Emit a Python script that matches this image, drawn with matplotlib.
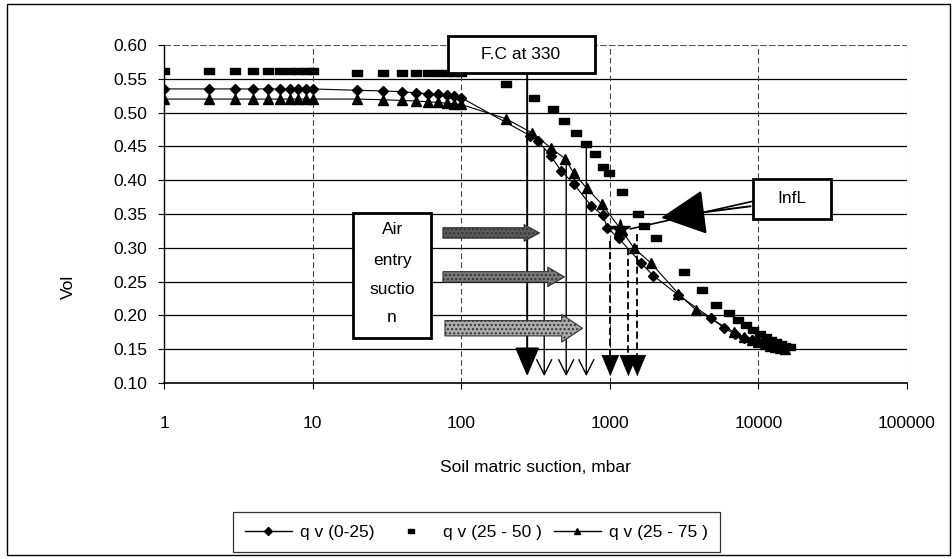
import numpy as np
import matplotlib
matplotlib.use("Agg")
import matplotlib.pyplot as plt
from matplotlib.patches import Rectangle, FancyArrowPatch
from matplotlib.lines import Line2D

plt.rcParams['font.family'] = ['Liberation Sans', 'DejaVu Sans']

# q v (0-25), diamonds with line
diam_x = [1, 2, 3, 4, 5, 6, 7, 8, 9, 10, 20, 30, 40, 50, 60, 70, 80, 90, 100,
          290, 330, 400, 470, 570, 750, 900, 960, 1150, 1630, 1960, 2900, 4800,
          5900, 7000, 8000, 9000, 10000, 11000, 12000, 13000, 14000]
diam_y = [0.535, 0.535, 0.535, 0.535, 0.535, 0.535, 0.535, 0.535, 0.535, 0.535,
          0.533, 0.532, 0.531, 0.529, 0.528, 0.527, 0.526, 0.524, 0.522,
          0.466, 0.458, 0.436, 0.414, 0.395, 0.362, 0.348, 0.330, 0.314, 0.277,
          0.259, 0.230, 0.196, 0.181, 0.172, 0.167, 0.163, 0.160, 0.157, 0.155,
          0.154, 0.152]

# q v (25 - 50 ), rectangles, no line
sq_x = [1, 2, 3, 4, 5, 6, 7, 8, 9, 10, 20, 30, 40, 50, 60, 70, 80, 90, 100,
        200, 310, 415, 495, 595, 690, 790, 900, 990, 1200, 1550, 1700, 2050,
        3150, 4150, 5200, 6300, 7300, 8200, 9200, 10200, 11200, 12200, 13200,
        14200, 15200, 16200]
sq_y = [0.562, 0.562, 0.562, 0.562, 0.562, 0.562, 0.562, 0.562, 0.562, 0.562,
        0.559, 0.559, 0.559, 0.559, 0.559, 0.559, 0.559, 0.559, 0.559,
        0.542, 0.522, 0.506, 0.488, 0.470, 0.454, 0.439, 0.419, 0.410, 0.382,
        0.350, 0.333, 0.314, 0.264, 0.237, 0.215, 0.203, 0.193, 0.186, 0.179,
        0.173, 0.168, 0.164, 0.160, 0.157, 0.155, 0.153]

# q v (25 - 75 ), triangles with line
tri_x = [1, 2, 3, 4, 5, 6, 7, 8, 9, 10, 20, 30, 40, 50, 60, 70, 80, 90, 100,
         200, 300, 400, 500, 570, 700, 880, 1200, 1450, 1900, 2900, 3800, 6900,
         8000, 9000, 10000, 11000, 12000, 13000, 14000, 15000]
tri_y = [0.520, 0.520, 0.520, 0.520, 0.520, 0.520, 0.520, 0.520, 0.520, 0.520,
         0.520, 0.519, 0.518, 0.517, 0.516, 0.515, 0.514, 0.513, 0.512,
         0.491, 0.470, 0.448, 0.432, 0.411, 0.388, 0.365, 0.326, 0.300, 0.277,
         0.232, 0.208, 0.175, 0.168, 0.163, 0.160, 0.157, 0.155, 0.153, 0.152,
         0.150]

labels = ["q v (0-25)", "q v (25 - 50 )", "q v (25 - 75 )"]
yticks = [0.10, 0.15, 0.20, 0.25, 0.30, 0.35, 0.40, 0.45, 0.50, 0.55, 0.60]
xticks = [1, 10, 100, 1000, 10000, 100000]

# annotation positions
fc_arrow_x = 278
open_arrow_x = [362, 509, 695]
open_arrow_top = [0.45, 0.43, 0.455]
dash_arrow_x = [1008, 1334, 1531]
dash_arrow_top = [0.31, 0.30, 0.32]
inflection = (1176, 0.328)

rect_marker = [(-1, -0.62), (1, -0.62), (1, 0.62), (-1, 0.62), (-1, -0.62)]

fig = plt.figure(figsize=(9.53, 5.59), dpi=100)
ax = fig.add_axes([0.1721, 0.3148, 0.7796, 0.6047])

ax.plot(diam_x, diam_y, color='black', lw=0.8, marker='D', ms=5.5, zorder=4)
ax.plot(sq_x, sq_y, ls='none', color='black', marker=rect_marker, ms=6.5, zorder=4)
ax.plot(tri_x, tri_y, color='black', lw=0.8, marker='^', ms=7, zorder=4)

ax.set_xscale('log')
ax.set_xlim(1, 100000)
ax.set_ylim(0.10, 0.60)
ax.set_xticks(xticks)
ax.set_xticklabels([str(v) for v in xticks])
ax.xaxis.set_minor_locator(matplotlib.ticker.NullLocator())
ax.set_yticks(yticks)
ax.set_yticklabels([f"{v:.2f}" for v in yticks])
ax.xaxis.set_tick_params(which='major', labelsize=12.5, length=4, width=0.8, pad=20)
ax.yaxis.set_tick_params(which='major', labelsize=12.5, length=4, width=0.8, pad=8)

for y in yticks[1:-1]:
    ax.axhline(y, color='black', lw=0.9, zorder=1)
ax.axhline(0.60, color='#555555', lw=0.8, ls=(0, (6, 2)), zorder=1)
for x in xticks[1:-1]:
    ax.axvline(x, color='#444444', lw=0.8, ls=(0, (5, 3)), zorder=1)
ax.axvline(100000, color='#666666', lw=0.8, ls=(0, (2, 2)), zorder=1)
ax.spines['top'].set_visible(False)
ax.spines['right'].set_visible(False)
ax.spines['left'].set_linewidth(1.0)
ax.spines['bottom'].set_linewidth(1.2)


def box(x0, x1, y0, y1, lw=2.0):
    ax.add_patch(Rectangle((x0, y0), x1 - x0, y1 - y0, fill=True, facecolor='white',
                           edgecolor='black', lw=lw, zorder=6, clip_on=False))


# F.C at 330 box and its arrow
box(82, 800, 0.559, 0.613)
ax.text(250, 0.586, "F.C at 330", ha='center', va='center', fontsize=12.5, zorder=7)
ax.add_patch(FancyArrowPatch((fc_arrow_x, 0.559), (fc_arrow_x, 0.106),
                             arrowstyle='-|>,head_length=1.3,head_width=0.55',
                             mutation_scale=14, lw=1.4, color='black', zorder=5))
for x, top in zip(open_arrow_x, open_arrow_top):
    ax.add_patch(FancyArrowPatch((x, top), (x, 0.106),
                                 arrowstyle='->,head_length=0.9,head_width=0.45',
                                 mutation_scale=12, lw=1.0, color='black', zorder=5))
for x, top in zip(dash_arrow_x, dash_arrow_top):
    ax.plot([x, x], [top, 0.125], color='black', lw=1.3, ls=(0, (4, 2)), zorder=5)
    ax.add_patch(FancyArrowPatch((x, 0.13), (x, 0.106),
                                 arrowstyle='-|>,head_length=1.2,head_width=0.5',
                                 mutation_scale=12, lw=0.5, color='black', zorder=5))

# Air entry suction box and block arrows
box(18.7, 62.8, 0.166, 0.351)
for txt, y in zip(["Air", "entry", "suctio", "n"], [0.327, 0.281, 0.239, 0.197]):
    ax.text(34.3, y, txt, ha='center', va='center', fontsize=12.5, zorder=7)

block_arrows = [(72.2, 351, 0.322, '#5a5a5a', 7.5, 12, 11),
                (72.2, 517, 0.257, '#7a7a7a', 7.5, 14, 12),
                (74.5, 684, 0.181, '#aaaaaa', 11, 20, 15)]
for x0, x1, y, col, tw, hw, hl in block_arrows:
    ax.add_patch(FancyArrowPatch((x0, y), (x1, y),
                                 arrowstyle=f'simple,tail_width={tw},head_width={hw},head_length={hl}',
                                 mutation_scale=1, facecolor=col, edgecolor='#333333',
                                 lw=0.8, hatch='....', zorder=5))

# Inflection box and arrow
box(9250, 31000, 0.343, 0.402)
ax.text(16900, 0.373, "InfL", ha='center', va='center', fontsize=12.5, zorder=7)
ax.plot([inflection[0] * 1.17, 9250], [inflection[1], 0.369], color='black', lw=1.2, zorder=5)
ax.add_patch(FancyArrowPatch((9250, 0.362), (2122, 0.344),
                             arrowstyle='-|>,head_length=1.6,head_width=0.8',
                             mutation_scale=18, lw=1.4, color='black', zorder=5))
ax.plot([inflection[0]], [inflection[1]], marker='*', ms=15, color='black', zorder=6)

fig.text(68 / 953, 1 - 287 / 559, "Vol", rotation=90, ha='center', va='center', fontsize=12.5)
fig.text(535 / 953, 1 - 467 / 559, "Soil matric suction, mbar", ha='center', va='center',
         fontsize=12.5)

handles = [Line2D([], [], color='black', lw=1.0, marker='D', ms=4),
           Line2D([], [], color='black', ls='none', marker=rect_marker, ms=5),
           Line2D([], [], color='black', lw=1.0, marker='^', ms=5)]
leg = fig.legend(handles, labels, loc='center', bbox_to_anchor=(0.5, 1 - 532 / 559), ncol=3,
                 fontsize=12.5, frameon=True, fancybox=False, handlelength=2.7,
                 columnspacing=0.7, handletextpad=0.5, borderpad=0.7)
leg.get_frame().set_edgecolor('black')
leg.get_frame().set_linewidth(0.9)

fig.patches.append(Rectangle((7 / 953, 4 / 559), 943 / 953, 551 / 559, fill=False,
                             edgecolor='black', lw=1.0, transform=fig.transFigure))

fig.savefig("out.png", dpi=100)
